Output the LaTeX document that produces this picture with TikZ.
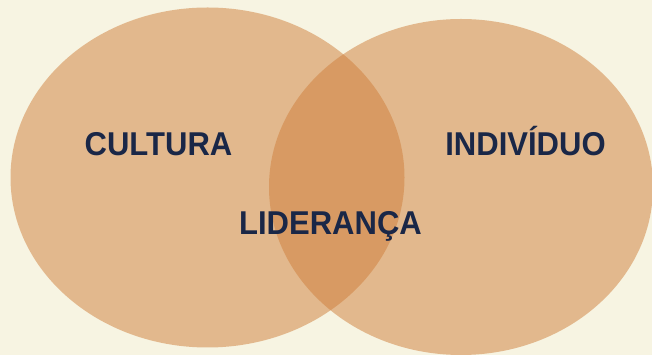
\documentclass[tikz,border=0pt]{standalone}
\usepackage{fontspec}
\setmainfont{Liberation Sans}
\usepackage{tikz}
\definecolor{bgcream}{HTML}{F7F4E2}
\definecolor{ochre}{HTML}{CF7E3A}
\definecolor{navy}{HTML}{1A2747}
\begin{document}
\begin{tikzpicture}[x=1pt,y=1pt,label/.style={text=navy,font=\fontsize{33}{40}\selectfont\bfseries,xscale=0.94,anchor=base}]
\fill[bgcream](0,0) rectangle (652,355);
\useasboundingbox (0,0) rectangle (652,355);
\fill[ochre,opacity=0.5](207.5,177.5) ellipse[x radius=197pt,y radius=170pt];
\fill[ochre,opacity=0.5](461,168) ellipse[x radius=192pt,y radius=168pt];
\node[label] (cultura) at (158.5,199) {CULTURA};
\node[label] (individuo) at (525.5,199) {INDIVÍDUO};
\node[label] (lideranca) at (330.5,120) {LIDERANÇA};
\end{tikzpicture}
\end{document}
